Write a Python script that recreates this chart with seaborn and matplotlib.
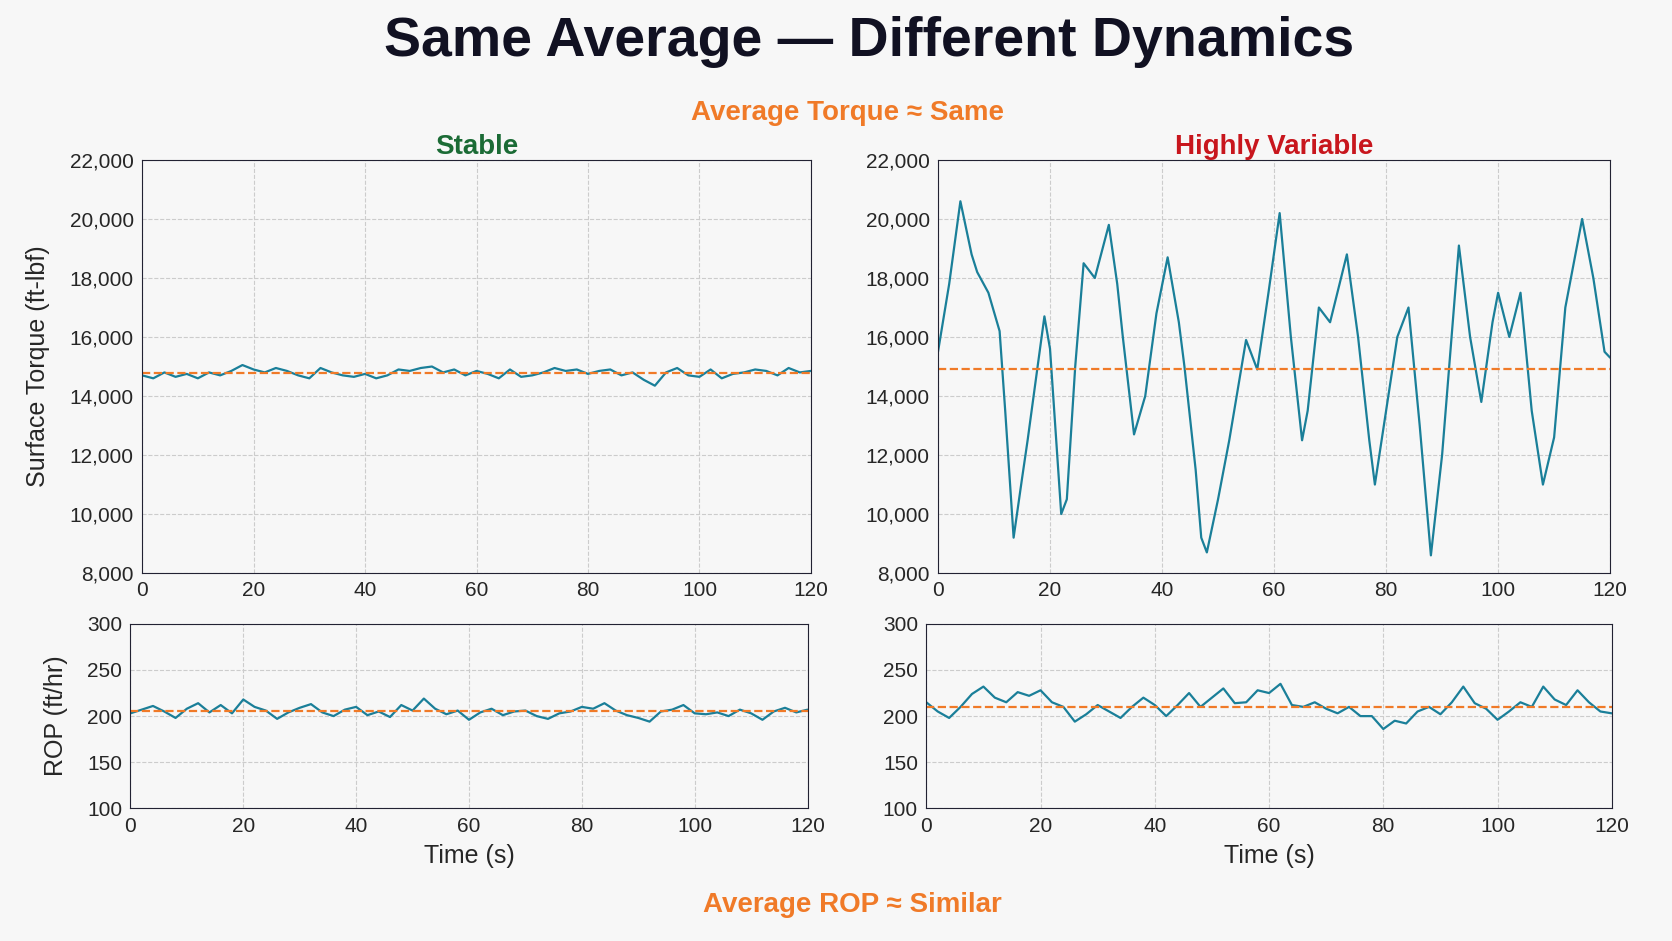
import numpy as np
import pandas as pd
import seaborn as sns
import matplotlib.pyplot as plt
from matplotlib.ticker import FuncFormatter

sns.set_style("white")
plt.rcParams['font.family'] = ['Liberation Sans Narrow', 'Liberation Sans', 'DejaVu Sans']

# stable torque, every 2 s
stable_t = np.arange(0, 121, 2)
stable_torque = [14700, 14600, 14800, 14650, 14750, 14600, 14800, 14700, 14850, 15050,
                 14900, 14800, 14950, 14850, 14700, 14600, 14950, 14800, 14700, 14650,
                 14750, 14600, 14700, 14900, 14850, 14950, 15000, 14800, 14900, 14700,
                 14850, 14750, 14600, 14900, 14650, 14700, 14800, 14950, 14850, 14900,
                 14750, 14850, 14900, 14700, 14800, 14550, 14350, 14800, 14950, 14700,
                 14650, 14900, 14600, 14750, 14800, 14900, 14850, 14700, 14950, 14800, 14850]
stable_rop = [203, 207, 211, 205, 198, 208, 214, 204, 212, 203,
              218, 210, 206, 197, 204, 209, 213, 204, 200, 207,
              210, 201, 205, 199, 212, 206, 219, 208, 202, 206,
              196, 204, 208, 201, 205, 206, 200, 197, 203, 205,
              210, 208, 214, 206, 201, 198, 194, 205, 207, 212,
              203, 202, 204, 200, 207, 203, 196, 205, 209, 204, 207]

# variable torque key points
var_t = [0, 2, 4, 6, 7, 9, 11, 12, 13.5, 15, 16, 19, 20, 22, 23, 24.5, 26, 28, 30.5, 32, 33,
         35, 37, 39, 41, 43, 44, 46, 47, 48, 50, 52, 55, 57, 59, 61, 63, 65, 66, 68, 70,
         73, 75, 77, 78, 80, 82, 84, 86, 88, 90, 93, 95, 97, 99, 100, 102, 104, 106, 108,
         110, 112, 115, 117, 119, 120]
var_torque = [15500, 17800, 20600, 18800, 18200, 17500, 16200, 13500, 9200, 11200, 12500,
              16700, 15600, 10000, 10500, 15000, 18500, 18000, 19800, 17800, 16000, 12700,
              14000, 16800, 18700, 16500, 15000, 11500, 9200, 8700, 10500, 12500, 15900,
              14900, 17500, 20200, 16000, 12500, 13500, 17000, 16500, 18800, 16000, 12500,
              11000, 13500, 16000, 17000, 13000, 8600, 12000, 19100, 16000, 13800, 16500,
              17500, 16000, 17500, 13500, 11000, 12600, 17000, 20000, 18000, 15500, 15300]
var_rop_t = np.arange(0, 121, 2)
var_rop = [215, 205, 198, 210, 224, 232, 220, 215, 226, 222, 228, 215, 210, 194, 202, 212,
           205, 198, 210, 220, 212, 200, 212, 225, 210, 220, 230, 214, 215, 228, 225, 235,
           212, 210, 215, 208, 203, 210, 200, 200, 186, 195, 192, 205, 210, 202, 215, 232,
           214, 208, 196, 205, 215, 210, 232, 218, 212, 228, 215, 205, 203]

line_c = '#1a7f99'
mean_c = '#f07a28'
bg = '#f7f7f7'

fig = plt.figure(figsize=(16.72, 9.41), dpi=100, facecolor=bg)
ax_tl = fig.add_axes([0.085, 0.391, 0.40, 0.439])
ax_tr = fig.add_axes([0.561, 0.391, 0.402, 0.439])
ax_bl = fig.add_axes([0.078, 0.141, 0.405, 0.196])
ax_br = fig.add_axes([0.554, 0.141, 0.410, 0.196])


def style(ax, ylim, yticks):
    ax.set_facecolor(bg)
    ax.set_xlim(0, 120)
    ax.set_ylim(*ylim)
    ax.set_xticks(range(0, 121, 20))
    ax.set_yticks(yticks)
    ax.grid(True, linestyle='--', color='#cccccc', linewidth=0.8)
    ax.tick_params(labelsize=15, length=4, pad=2)
    for s in ax.spines.values():
        s.set_color('#222233')
    ax.set_xlabel('')
    ax.set_ylabel('')


fmt = FuncFormatter(lambda v, p: f'{int(v):,}')

sns.lineplot(x=stable_t, y=stable_torque, ax=ax_tl, color=line_c, lw=1.6)
ax_tl.axhline(np.mean(stable_torque), color=mean_c, ls='--', lw=1.6)
sns.lineplot(x=var_t, y=var_torque, ax=ax_tr, color=line_c, lw=1.6)
ax_tr.axhline(14900, color=mean_c, ls='--', lw=1.6)
sns.lineplot(x=stable_t, y=stable_rop, ax=ax_bl, color=line_c, lw=1.6)
ax_bl.axhline(205, color=mean_c, ls='--', lw=1.6)
sns.lineplot(x=var_rop_t, y=var_rop, ax=ax_br, color=line_c, lw=1.6)
ax_br.axhline(210, color=mean_c, ls='--', lw=1.6)

for ax in (ax_tl, ax_tr):
    style(ax, (8000, 22000), range(8000, 22001, 2000))
    ax.yaxis.set_major_formatter(fmt)
for ax in (ax_bl, ax_br):
    style(ax, (100, 300), range(100, 301, 50))
    ax.set_xlabel('Time (s)', fontsize=18, labelpad=6)

ax_tl.set_ylabel('Surface Torque (ft-lbf)', fontsize=18, labelpad=14)
ax_bl.set_ylabel('ROP (ft/hr)', fontsize=18, labelpad=14)
ax_tl.set_title('Stable', fontsize=20, fontweight='bold', color='#1b6b35', pad=4)
ax_tr.set_title('Highly Variable', fontsize=20, fontweight='bold', color='#c8161d', pad=4)

fig.text(0.52, 0.955, 'Same Average — Different Dynamics', ha='center', va='center',
         fontsize=40, fontweight='bold', color='#111122')
fig.text(0.507, 0.88, 'Average Torque ≈ Same', ha='center', va='center',
         fontsize=20, fontweight='bold', color=mean_c)
fig.text(0.51, 0.038, 'Average ROP ≈ Similar', ha='center', va='center',
         fontsize=20, fontweight='bold', color=mean_c)

fig.savefig('out.png', dpi=100, facecolor=bg)
